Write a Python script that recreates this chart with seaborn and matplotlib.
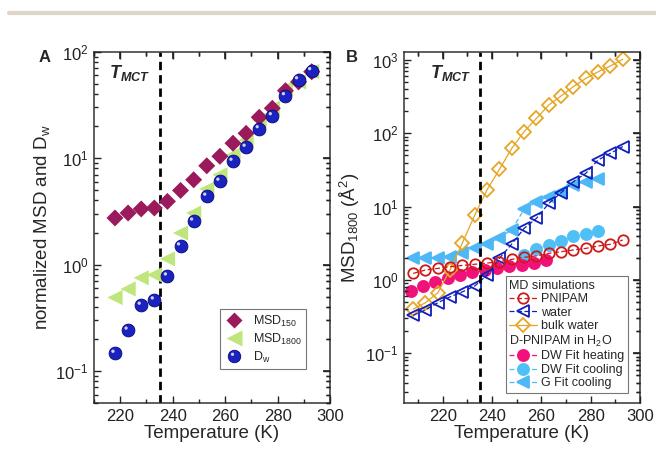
import numpy as np
import pandas as pd
import seaborn as sns
import matplotlib
matplotlib.use("Agg")
from matplotlib import pyplot as plt
from matplotlib.lines import Line2D
from matplotlib.path import Path
from matplotlib.collections import LineCollection
from matplotlib.transforms import blended_transform_factory
from matplotlib.ticker import MultipleLocator

# ---- panel A data ----
temp_a = [218, 223, 228, 233, 238, 243, 248, 253, 258, 263, 268, 273, 278, 283, 288, 293]
msd150 = [2.74, 3.05, 3.33, 3.40, 3.92, 4.97, 6.26, 8.47, 10.4, 13.8, 17.1, 24.2, 29.4, 43.0, 52.0, 64.8]
msd1800 = [0.49, 0.59, 0.75, 0.80, 1.13, 1.98, 3.05, 5.12, 6.97, 10.7, 14.8, 22.8, 29.4, 45.0, 52.0, 65.0]
dw = [0.146, 0.241, 0.413, 0.463, 0.778, 1.49, 2.55, 4.37, 6.04, 9.3, 12.6, 18.8, 24.9, 38.4, 54.2, 66.0]

# ---- panel B data ----
temp_md = [208, 213, 218, 223, 228, 233, 238, 243, 248, 253, 258, 263, 268, 273, 278, 283, 288, 293]
pnipam = [1.23, 1.37, 1.44, 1.52, 1.58, 1.64, 1.70, 1.78, 1.91, 2.04, 2.13, 2.31, 2.43, 2.57, 2.70, 2.91, 3.07, 3.51]
water = [0.33, 0.39, 0.49, 0.59, 0.69, 0.83, 1.17, 1.98, 3.1, 5.07, 6.94, 11.1, 15.5, 22.0, 28.5, 43.4, 53.5, 66.0]
bulk_water = [0.40, 0.49, 0.67, 1.38, 3.23, 7.7, 17.1, 32.4, 62.6, 106, 160, 244, 324, 434, 562, 692, 830, 1025]

temp_heat = [207, 212, 217, 222, 227, 232, 237, 242, 247, 252, 257, 262]
dw_heat = [0.70, 0.82, 0.95, 1.06, 1.17, 1.27, 1.36, 1.47, 1.55, 1.62, 1.69, 1.87]

temp_cool = [253, 258, 263, 268, 273, 278, 283]
dw_cool = [2.2, 2.65, 3.0, 3.4, 3.95, 4.2, 4.7]

temp_g = [208, 213, 218, 223, 228, 233, 238, 243, 248, 253, 258, 263, 268, 273, 278, 283]
g_cool = [1.97, 1.99, 2.0, 2.05, 2.35, 2.7, 3.12, 3.75, 4.85, 9.2, 11.7, 13.7, 16.0, 19.8, 21.9, 23.6]

t_mct = 235

sns.set_theme(style="white")
plt.rcParams["font.family"] = ["Liberation Sans", "DejaVu Sans"]
plt.rcParams.update({
    "mathtext.fontset": "custom",
    "mathtext.rm": "Liberation Sans",
    "mathtext.it": "Liberation Sans:italic",
    "mathtext.bf": "Liberation Sans:bold",
    "mathtext.bfit": "Liberation Sans:italic:bold",
    "axes.edgecolor": "#333333", "axes.linewidth": 1.1,
    "axes.axisbelow": False,
    "xtick.labelcolor": "#222222", "ytick.labelcolor": "#222222",
    "xtick.labelsize": 12, "ytick.labelsize": 12,
})

fig = plt.figure(figsize=(6.56, 4.49), dpi=100)
axA = fig.add_axes([0.1433, 0.1024, 0.3598, 0.7825])
axB = fig.add_axes([0.6159, 0.1024, 0.3598, 0.7825])

fig.add_artist(Line2D([9 / 656, 1], [1 - 13 / 449] * 2, color="#ddd6c6", lw=3))


def style_axis(ax):
    ax.xaxis.set_major_locator(MultipleLocator(20))
    ax.xaxis.set_minor_locator(MultipleLocator(10))
    ax.tick_params(which="both", direction="in", top=True, right=True,
                   color="#222222", pad=4)
    ax.tick_params(which="major", length=5, width=1.2)
    ax.tick_params(which="minor", length=2.8, width=1.0)


def draw_ticks(ax):
    # inward tick marks on all four sides, taken from the axis locators
    x0, x1 = ax.get_xlim()
    y0, y1 = ax.get_ylim()
    bx = blended_transform_factory(ax.transData, ax.transAxes)
    by = blended_transform_factory(ax.transAxes, ax.transData)
    for locs, ln in ((ax.xaxis.get_majorticklocs(), 0.02), (ax.xaxis.get_minorticklocs(), 0.011)):
        segs = []
        for v in locs:
            if x0 <= v <= x1:
                segs += [[(v, 0), (v, ln)], [(v, 1), (v, 1 - ln)]]
        ax.add_collection(LineCollection(segs, colors="#222222", linewidths=1.0,
                                         transform=bx, clip_on=False, zorder=6))
    for locs, ln in ((ax.yaxis.get_majorticklocs(), 0.03), (ax.yaxis.get_minorticklocs(), 0.016)):
        segs = []
        for v in locs:
            if y0 <= v <= y1:
                segs += [[(0, v), (ln, v)], [(1, v), (1 - ln, v)]]
        ax.add_collection(LineCollection(segs, colors="#222222", linewidths=1.0,
                                         transform=by, clip_on=False, zorder=6))


# ---- panel A ----
dfa = pd.DataFrame({"T": temp_a, "msd150": msd150, "msd1800": msd1800, "dw": dw})
sns.scatterplot(data=dfa, x="T", y="msd1800", ax=axA, marker="<", s=120,
                color="#bfe67d", edgecolor="none", zorder=3)
sns.scatterplot(data=dfa, x="T", y="msd150", ax=axA, marker="D", s=75,
                color="#9a1a5c", edgecolor="none", zorder=3)
sns.scatterplot(data=dfa, x="T", y="dw", ax=axA, marker="o", s=85,
                color="#1a22c0", edgecolor="#08087a", linewidth=0.6, zorder=4)
# highlight for the sphere look
circ = Path.circle((-0.32, 0.35), 0.26)
hl = Path(np.vstack([circ.vertices, [[-1, -1], [1, 1]]]),
          np.concatenate([circ.codes, [Path.MOVETO, Path.MOVETO]]))
sns.scatterplot(data=dfa, x="T", y="dw", ax=axA, marker=hl, s=85,
                color="white", edgecolor="none", alpha=0.8, zorder=5)

axA.axvline(t_mct, color="black", lw=2, ls=(0, (3, 1.8)), zorder=2)
axA.set_yscale("log")
axA.set_ylim(0.05, 100)
axA.set_xlim(210, 300)
style_axis(axA)
draw_ticks(axA)
axA.set_xlabel("Temperature (K)", fontsize=13.5, labelpad=1)
axA.set_ylabel(r"normalized MSD and D$_\mathrm{w}$", fontsize=13.5, labelpad=2)
axA.text(0.065, 0.94, r"$\mathbfit{T}_{\mathbfit{MCT}}$", transform=axA.transAxes,
         fontsize=13, va="center")
fig.text(45 / 656, 1 - 57 / 449, "A", fontsize=12, fontweight="bold", va="center", ha="center")

sph_base = Line2D([], [], marker="o", ls="none", ms=9, mfc="#1a22c0", mec="#08087a", mew=0.6)
sph_hl = Line2D([], [], marker=hl, ls="none", ms=9, mfc="white", mec="none", alpha=0.8)
handles_a = [
    Line2D([], [], marker="D", ls="none", ms=8.5, mfc="#9a1a5c", mec="none"),
    Line2D([], [], marker="<", ls="none", ms=11, mfc="#bfe67d", mec="none"),
    (sph_base, sph_hl),
]
legA = axA.legend(handles_a, [r"MSD$_{150}$", r"MSD$_{1800}$", r"D$_\mathrm{w}$"],
                  loc="lower right", bbox_to_anchor=(0.90, 0.097), borderaxespad=0,
                  fontsize=9, frameon=True, fancybox=False, edgecolor="#777777",
                  framealpha=1, handlelength=1.6, handletextpad=0.7, borderpad=0.35,
                  labelspacing=0.22)
legA.get_frame().set_linewidth(0.8)


# ---- panel B ----
def line_series(x, y, color, marker, ms, filled, ls):
    d = pd.DataFrame({"T": x, "v": y})
    kw = dict(marker=marker, markersize=ms, markeredgecolor=color, markeredgewidth=1.3,
              markerfacecolor=color if filled else "none", lw=0.9, linestyle=ls)
    sns.lineplot(data=d, x="T", y="v", ax=axB, color=color, estimator=None, **kw)
    return Line2D([], [], color=color, **kw)


dash = (0, (4, 2))
h_g = line_series(temp_g, g_cool, "#4db8f5", "<", 9, True, dash)
h_cool = line_series(temp_cool, dw_cool, "#4fc0f5", "o", 8, True, dash)
h_heat = line_series(temp_heat, dw_heat, "#f0127a", "o", 8, True, dash)
h_bulk = line_series(temp_md, bulk_water, "#e6a526", "D", 7, False, "-")
h_water = line_series(temp_md, water, "#1020b8", "<", 8.5, False, dash)
h_pni = line_series(temp_md, pnipam, "#d01818", "o", 7.5, False, dash)

axB.axvline(t_mct, color="black", lw=2, ls=(0, (3, 1.8)), zorder=2)
axB.set_yscale("log")
axB.set_ylim(0.021, 1300)
axB.set_xlim(204.3, 300)
style_axis(axB)
draw_ticks(axB)
axB.set_xlabel("Temperature (K)", fontsize=13.5, labelpad=1)
axB.set_ylabel(r"MSD$_{1800}$ (Å$^2$)", fontsize=13.5, labelpad=2)
axB.text(0.11, 0.94, r"$\mathbfit{T}_{\mathbfit{MCT}}$", transform=axB.transAxes,
         fontsize=13, va="center")
fig.text(352 / 656, 1 - 57 / 449, "B", fontsize=12, fontweight="bold", va="center", ha="center")

blank = Line2D([], [], color="none")
handles_b = [blank, h_pni, h_water, h_bulk, blank, h_heat, h_cool, h_g]
labels_b = ["MD simulations", "PNIPAM", "water", "bulk water", r"D-PNIPAM in H$_2$O",
            "DW Fit heating", "DW Fit cooling", "G Fit cooling"]
legB = axB.legend(handles_b, labels_b, loc="lower right", bbox_to_anchor=(0.95, 0.028),
                  borderaxespad=0, fontsize=9, frameon=True, fancybox=False,
                  edgecolor="#777777", framealpha=1, handlelength=2.2, handletextpad=0.35,
                  borderpad=0.3, labelspacing=0.12)
legB.get_frame().set_linewidth(0.8)
legB.set_zorder(7)
for vpack in legB._legend_handle_box.get_children():
    for i, hpack in enumerate(vpack.get_children()):
        if labels_b[i] in ("MD simulations", r"D-PNIPAM in H$_2$O"):
            hpack.get_children()[0].set_width(0)
            hpack.sep = 0

fig.savefig("out.png", dpi=100)
